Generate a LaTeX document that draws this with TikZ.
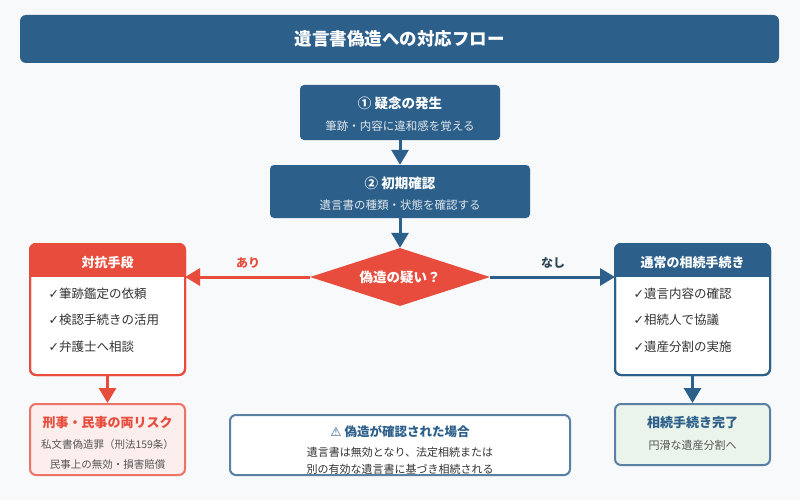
\documentclass[tikz,border=0pt]{standalone}
\usepackage{fontspec}
\setmainfont{Noto Sans CJK JP}
\newfontfamily\sym{DejaVu Sans}
\usetikzlibrary{shapes.geometric,arrows.meta}
\definecolor{bg}{HTML}{F7F9FB}
\definecolor{dblue}{HTML}{2C5F8A}
\definecolor{mblue}{HTML}{5A80A3}
\definecolor{red}{HTML}{E74C3C}
\definecolor{lred}{HTML}{FDEEEE}
\definecolor{pred}{HTML}{EC7467}
\definecolor{lgreen}{HTML}{EAF4EA}
\definecolor{txt}{HTML}{333333}
\definecolor{gtxt}{HTML}{555555}
\begin{document}
\begin{tikzpicture}[x=1pt,y=-1pt,
  box/.style={rounded corners=6pt,line width=2pt},
  arr/.style={line width=3pt,-{Triangle[length=15pt,width=17pt]}},
  lbl/.style={font=\fontsize{12}{14}\selectfont\bfseries},
  item/.style={font=\fontsize{12.5}{14}\selectfont,text=txt,anchor=west}]
\useasboundingbox (0,0) rectangle (800,500);
\fill[bg] (0,0) rectangle (800,500);
% title
\node[fill=dblue,rounded corners=6pt,minimum width=759pt,minimum height=48pt,text=white,font=\fontsize{17.5}{20}\selectfont\bfseries] (title) at (399.5,39) {遺言書偽造への対応フロー};
% step1
\node[fill=dblue,rounded corners=4pt,minimum width=200pt,minimum height=55pt] (s1) at (400,112.5) {};
\node[text=white,font=\fontsize{13.5}{15}\selectfont\bfseries] (s1t) at (400,103) {①\ 疑念の発生};
\node[text=white!85!dblue,font=\fontsize{11.5}{13}\selectfont] (s1s) at (400,126) {筆跡・内容に違和感を覚える};
% step2
\node[fill=dblue,rounded corners=4pt,minimum width=260pt,minimum height=53pt] (s2) at (400,191.5) {};
\node[text=white,font=\fontsize{13.5}{15}\selectfont\bfseries] (s2t) at (400,183) {②\ 初期確認};
\node[text=white!85!dblue,font=\fontsize{11.5}{13}\selectfont] (s2s) at (400,205) {遺言書の種類・状態を確認する};
% diamond
\node[diamond,fill=red,minimum width=180pt,minimum height=58pt,inner sep=0pt,aspect=3.1,text=white,font=\fontsize{13.5}{15}\selectfont\bfseries] (d) at (400,277) {偽造の疑い？};
\draw[arr,dblue] (s1.south) -- (s2.north);
\draw[arr,dblue] (s2.south) -- (d.north);
% left box
\draw[box,red,fill=white] (30,244) rectangle (185,375);
\begin{scope}
\clip[rounded corners=6pt] (30,244) rectangle (185,375);
\fill[red] (30,244) rectangle (185,277);
\end{scope}
\draw[box,red] (30,244) rectangle (185,375);
\node[text=white,font=\fontsize{13}{15}\selectfont\bfseries] (lh) at (107.5,263) {対抗手段};
\coordinate (L) at (185,277);
\coordinate (Lb) at (107.5,375);
\node[item] (l1) at (45,294) {{\sym ✓}筆跡鑑定の依頼};
\node[item] (l2) at (45,320) {{\sym ✓}検認手続きの活用};
\node[item] (l3) at (45,347) {{\sym ✓}弁護士へ相談};
% right box
\draw[box,dblue,fill=white] (615,244) rectangle (770,375);
\begin{scope}
\clip[rounded corners=6pt] (615,244) rectangle (770,375);
\fill[dblue] (615,244) rectangle (770,277);
\end{scope}
\draw[box,dblue] (615,244) rectangle (770,375);
\node[text=white,font=\fontsize{13}{15}\selectfont\bfseries] (rh) at (692.5,263) {通常の相続手続き};
\coordinate (R) at (615,277);
\coordinate (Rb) at (692.5,375);
\node[item] (r1) at (630,294) {{\sym ✓}遺言内容の確認};
\node[item] (r2) at (630,320) {{\sym ✓}相続人で協議};
\node[item] (r3) at (630,347) {{\sym ✓}遺産分割の実施};
% branches
\draw[arr,red] (d.west) -- (L);
\draw[arr,dblue] (d.east) -- (R);
\node[lbl,text=red] (ari) at (248,263) {あり};
\node[lbl,text=txt!60!dblue] (nashi) at (553,263) {なし};
% risk
\node[box,draw=pred,fill=lred,minimum width=155pt,minimum height=71pt] (risk) at (107.5,439.5) {};
\node[text=red,font=\fontsize{13}{15}\selectfont\bfseries] (rk1) at (107.5,423) {刑事・民事の両リスク};
\node[text=gtxt,font=\fontsize{10.5}{13}\selectfont] (rk2) at (107.5,445) {私文書偽造罪（刑法159条）};
\node[text=gtxt,font=\fontsize{10.5}{13}\selectfont] (rk3) at (107.5,465) {民事上の無効・損害賠償};
\draw[arr,red] (Lb) -- (risk.north);
% done
\node[box,draw=mblue,fill=lgreen,minimum width=155pt,minimum height=61pt] (done) at (692.5,434.5) {};
\node[text=dblue,font=\fontsize{13}{15}\selectfont\bfseries] (dn1) at (692.5,423) {相続手続き完了};
\node[text=gtxt,font=\fontsize{11}{13}\selectfont] (dn2) at (692.5,445) {円滑な遺産分割へ};
\draw[arr,dblue] (Rb) -- (done.north);
% note
\node[box,draw=mblue,fill=white,minimum width=340pt,minimum height=60pt] (note) at (400,445) {};
\node[text=dblue,font=\fontsize{12.5}{14}\selectfont\bfseries] (n1) at (400,432) {{\sym ⚠}\ 偽造が確認された場合};
\node[text=txt,font=\fontsize{11}{13}\selectfont] (n2) at (400,452) {遺言書は無効となり、法定相続または};
\node[text=txt,font=\fontsize{11}{13}\selectfont] (n3) at (400,469) {別の有効な遺言書に基づき相続される};
\end{tikzpicture}
\end{document}
